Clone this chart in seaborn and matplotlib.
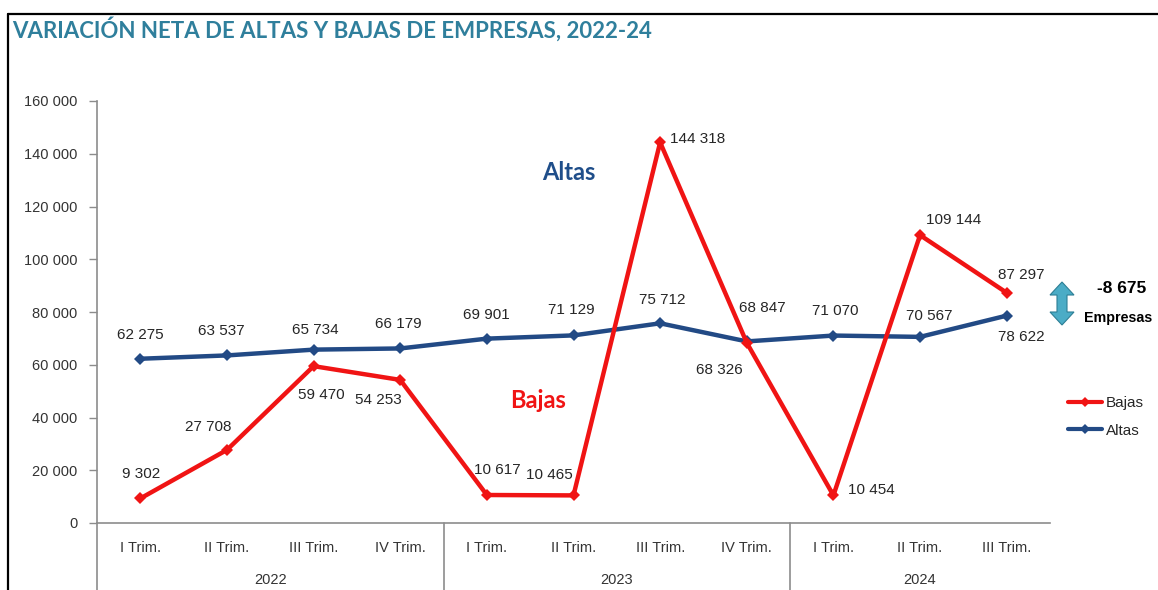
import numpy as np
import pandas as pd
import matplotlib
matplotlib.use("Agg")
import matplotlib.pyplot as plt
from matplotlib.lines import Line2D
from matplotlib.patches import Polygon
import seaborn as sns

# ---- data ----
years = ["2022", "2023", "2024"]
quarters = ["I Trim.", "II Trim.", "III Trim.", "IV Trim.",
            "I Trim.", "II Trim.", "III Trim.", "IV Trim.",
            "I Trim.", "II Trim.", "III Trim."]
quarters_per_year = [4, 4, 3]
altas = [62275, 63537, 65734, 66179, 69901, 71129, 75712, 68847, 71070, 70567, 78622]
bajas = [9302, 27708, 59470, 54253, 10617, 10465, 144318, 68326, 10454, 109144, 87297]
net_change = "-8 675"

W, H = 1158, 590
sns.set_theme(style="white")
NARROW = ["Liberation Sans Narrow", "Liberation Sans", "DejaVu Sans"]
plt.rcParams["font.family"] = NARROW

def fx(x):
    return x / W

def fy(y):
    return 1 - y / H

fig = plt.figure(figsize=(W / 100, H / 100), dpi=100)
ax = fig.add_axes([fx(97), fy(523), fx(1050) - fx(97), fy(101) - fy(523)])

idx = np.arange(len(quarters))
df = pd.DataFrame({
    "pos": np.concatenate([idx, idx]),
    "valor": altas + bajas,
    "serie": ["Altas"] * len(altas) + ["Bajas"] * len(bajas),
})
RED = "#f01414"
BLUE = "#224a85"
sns.lineplot(data=df, x="pos", y="valor", hue="serie",
             palette={"Altas": BLUE, "Bajas": RED},
             marker="D", markersize=6, markeredgewidth=0,
             linewidth=3.2, ax=ax, legend=False, sort=False)

ax.set_xlim(-0.5, len(quarters) - 0.5)
ax.set_ylim(0, 160000)
ax.set_yticks(np.arange(0, 160001, 20000))
ax.set_yticklabels([f"{v:,}".replace(",", " ") for v in np.arange(0, 160001, 20000)])
ax.set_xticks([])
ax.set_xlabel("")
ax.set_ylabel("")
for s in ["top", "right"]:
    ax.spines[s].set_visible(False)
for s in ["left", "bottom"]:
    ax.spines[s].set_color("#8c8c8c")
    ax.spines[s].set_linewidth(1.2)
ax.tick_params(axis="y", which="both", left=True, length=6, width=1, color="#8c8c8c",
               labelsize=10.5, labelcolor="#333333", pad=8)

# x-axis multi-level labels
axh = 523 - 101
trans = ax.get_xaxis_transform()
for i, q in enumerate(quarters):
    ax.text(i, -25 / axh, q, transform=trans, ha="center", va="center",
            fontsize=10.5, color="#333333")
start = 0
for y, n in zip(years, quarters_per_year):
    center = start + (n - 1) / 2
    ax.text(center, -57 / axh, y, transform=trans, ha="center", va="center",
            fontsize=10.5, color="#333333")
    ax.plot([start - 0.5, start - 0.5], [0, -70 / axh], transform=trans,
            color="#8c8c8c", lw=1.2, clip_on=False)
    start += n

# data labels
altas_off = [(0, -24), (-6, -24), (2, -20), (-2, -24), (0, -24), (-2, -25),
             (2, -23), (16, -33), (2, -25), (9, -21), (15, 21)]
bajas_off = [(1, -24), (-19, -23), (8, 29), (-22, 20), (10, -25), (-24, -20),
             (37, -3), (-27, 27), (38, -5), (34, -15), (15, -18)]
def fmt(v):
    return f"{v:,}".replace(",", " ")
for i, (v, o) in enumerate(zip(altas, altas_off)):
    ax.annotate(fmt(v), (i, v), xytext=(o[0], -o[1]), textcoords="offset pixels",
                ha="center", va="center", fontsize=11, color="#262626")
for i, (v, o) in enumerate(zip(bajas, bajas_off)):
    ax.annotate(fmt(v), (i, v), xytext=(o[0], -o[1]), textcoords="offset pixels",
                ha="center", va="center", fontsize=11, color="#262626")

# series names in plot
fig.text(fx(569), fy(172), "Altas", ha="center", va="center", fontsize=17,
         fontweight="bold", color="#1f4e8a", family=["Lato", "DejaVu Sans"])
fig.text(fx(538), fy(400), "Bajas", ha="center", va="center", fontsize=17,
         fontweight="bold", color=RED, family=["Lato", "DejaVu Sans"])

# title
fig.text(fx(12), fy(29), "VARIACIÓN NETA DE ALTAS Y BAJAS DE EMPRESAS, 2022-24",
         ha="left", va="center", fontsize=16, fontweight="bold",
         color="#2f7f9c", family=["Lato", "DejaVu Sans"])

# frame
fig.add_artist(Line2D([fx(8), 1.01], [fy(14), fy(14)], color="black", lw=1.6))
fig.add_artist(Line2D([fx(8), fx(8)], [fy(14), -0.01], color="black", lw=1.6))

# double arrow
cx, top, bot = 1062, 282, 325
hw, hh, sw = 12, 13, 5
pts = [(cx, top), (cx + hw, top + hh), (cx + sw, top + hh), (cx + sw, bot - hh),
       (cx + hw, bot - hh), (cx, bot), (cx - hw, bot - hh), (cx - sw, bot - hh),
       (cx - sw, top + hh), (cx - hw, top + hh)]
fig.add_artist(Polygon([(fx(a), fy(b)) for a, b in pts], closed=True,
                       facecolor="#4bacc6", edgecolor="#2d7f95", lw=0.8))
fig.text(fx(1122), fy(289), net_change, ha="center", va="center", fontsize=12.5,
         fontweight="bold", color="black")
fig.text(fx(1084), fy(318), "Empresas", ha="left", va="center", fontsize=10.3,
         fontweight="bold", color="black")

# legend
handles = [Line2D([], [], color=RED, lw=3, marker="D", markersize=5, markeredgewidth=0),
           Line2D([], [], color=BLUE, lw=3, marker="D", markersize=5, markeredgewidth=0)]
fig.legend(handles, ["Bajas", "Altas"], loc="upper left",
           bbox_to_anchor=(fx(1068), fy(396)), frameon=False, fontsize=11,
           handlelength=2.2, handletextpad=0.3, labelspacing=0.9,
           borderpad=0, borderaxespad=0)

fig.savefig("out.png", dpi=100)
